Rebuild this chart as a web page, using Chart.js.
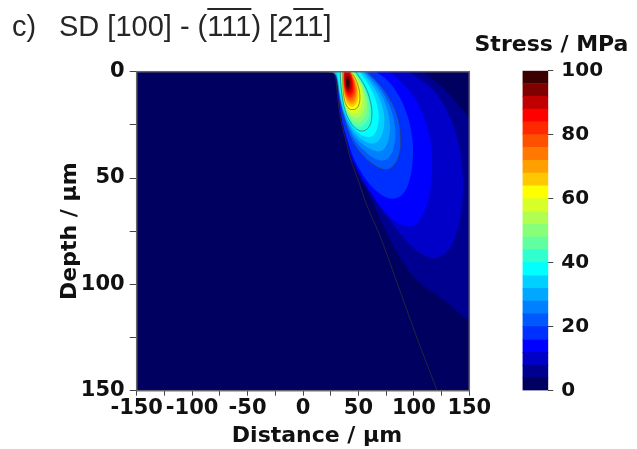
<!DOCTYPE html>
<html>
<head>
<meta charset="utf-8">
<script src="https://cdn.jsdelivr.net/npm/chart.js@4.4.1/dist/chart.umd.min.js"></script>
<style>
  html, body { margin: 0; padding: 0; background: #fff; }
  #wrap { position: relative; width: 637px; height: 449px; overflow: hidden; }
  #main { position: absolute; left: 0; top: 0; }
  #scale { position: absolute; left: 500px; top: 0; }
  .panel-title { position: absolute; top: 12px; font: 29px 'Liberation Sans', Arial, sans-serif; line-height: 29px; color: #262626; white-space: pre; }
  .ov { text-decoration: overline; text-decoration-thickness: 1.5px; }
  #unit { position: absolute; left: 460px; top: 33px; width: 183px; text-align: center; font: bold 22px 'DejaVu Sans', sans-serif; line-height: 22px; color: #111; }
</style>
</head>
<body>
<div id="wrap">
  <canvas id="main" width="637" height="449"></canvas>
  <canvas id="scale" width="137" height="449"></canvas>
  <div class="panel-title" style="left:12px">c)</div>
  <div class="panel-title" style="left:59px">SD [100] - (<span class="ov">111</span>) [2<span class="ov">11</span>]</div>
  <div id="unit">Stress / MPa</div>
</div>
<script>
'use strict';

const FONT = "'DejaVu Sans', sans-serif";

// Stress bands, 4 MPa wide: 0-4 (navy) ... 96-100 (dark red)
const bandStep = 4;
const bandColors = [
    '#000060', '#000090', '#0000c8', '#0000ff', '#0030ff',
    '#0058ff', '#0080ff', '#00a8ff', '#00d0ff', '#00ffff',
    '#30ffd0', '#60ffa0', '#88ff78', '#b0ff50', '#d8ff28',
    '#ffff00', '#ffc800', '#ffa000', '#ff7800', '#ff5000',
    '#ff2800', '#ff0000', '#c00000', '#800000', '#3c0000',
];

const distanceLabels = [-150, -100, -50, 0, 50, 100, 150];
const depthLabels = [0, 50, 100, 150];
const stressLabels = [0, 20, 40, 60, 80, 100];

// Iso-stress outlines as [distance µm, depth µm]; each one bounds the region above its level
const lv04 = [[15,0],[27,0.5],[29.4,2],[30.4,5],[31,8],[32.4,15],[35.4,25],[39.9,34],[43,40.5],[47,45],[51,50],[57.5,55.5],[66,65],[75.6,75.7],[86,86],[96.7,94.5],[111,101.5],[126.5,107.2],[149,116.6],[168,122],[185,105],[185,60],[172,36],[150,22],[128,8.5],[108,0]];
const lv08 = [[17,0],[27.3,0.55],[29.5,2],[30.5,5],[31.1,8],[32.5,15],[35.6,25],[40.2,34],[43.5,40.5],[47.8,45],[52,49.5],[58,54.5],[66,61],[75,67.5],[86,75],[98,82],[110,86.5],[121,87.5],[131,84],[139,75],[143.5,62],[144,48],[140,33],[131,19.5],[118,9],[104,3],[95,0]];
const lv12 = [[19,0],[27.6,0.6],[29.7,2.1],[30.7,5],[31.3,8],[32.7,15],[35.9,25],[40.7,34],[44.4,40.5],[49.3,46],[55,51.5],[62,57.5],[70,63.5],[79,68.5],[89,72],[99,72.5],[107,68.5],[113,60],[116,49],[116,37],[111.5,25],[103,14.5],[92,6.5],[78,0]];
const lv16 = [[21,0],[27.9,0.7],[29.9,2.3],[30.9,5.2],[31.5,8.2],[32.9,15],[36.2,25],[41.3,34],[45.6,40.5],[51.2,46],[58,51.5],[66,56],[75,59],[84,59.5],[91.5,56.5],[96.5,50],[99,41],[98.5,31],[94,20.5],[86,11],[76,4],[66,0]];
const lv20 = [[23,0],[28.2,0.9],[30.1,2.5],[31.2,5.5],[31.9,8.5],[33.5,14],[36.6,21],[40.8,28],[46.2,34],[53,38.8],[63.5,43.7],[74,46],[81,44.5],[86.5,39.5],[88,31],[85.5,21.6],[78,12.5],[68,5.3],[58,0]];
const lv24 = [[25,0],[28.5,1.1],[30.3,2.7],[31.4,5.8],[32.2,9],[34,14.5],[37.2,21],[41.8,27.4],[47.5,32.8],[54.5,36.8],[63.5,40.5],[72,41.8],[78.3,39.8],[82.3,34.5],[83.2,27.5],[80.5,19.5],[74,11.5],[65.5,5],[56.5,0]];
const lv28 = [[27,0],[28.9,1.4],[30.5,3],[31.6,6.2],[32.5,9.6],[34.5,15],[37.8,21],[42.6,26.8],[48.6,31.5],[55.8,34.8],[63.5,36.9],[70.2,37.3],[75,34.8],[78,29.8],[78.2,23.6],[75.4,17],[70,10.3],[62.5,4.6],[55,0]];
const lv32 = [[29,0],[30.2,1.8],[31.1,4],[32.1,7.2],[33.1,10.5],[35.2,15.6],[38.6,21.2],[43.5,26.3],[49.6,30.4],[56.6,32.9],[63.2,33.8],[68.4,32.4],[72,28.5],[73.4,23],[71.8,16.8],[67.3,10.6],[60.6,5],[53.5,0]];
const lv36 = [[31,0],[31.6,2.6],[32.3,5.4],[33.1,8.6],[34.2,11.8],[36.2,16.4],[39.6,21.4],[44.5,25.8],[50.5,29],[56.8,30.6],[62.3,30.3],[66.2,27.6],[68.2,23],[67.5,17.2],[64,11.2],[58.5,5.6],[51.5,0]];
const lv40 = [[33.5,0],[33.9,4],[34.5,8],[35.4,11.8],[37.8,17.8],[41.6,22.6],[46.6,26.2],[53,27.9],[59,26.3],[62,21.6],[60.8,14],[55.5,6.5],[47.5,0]];
const lv44 = [[34,0],[34.3,4.5],[34.9,9],[36.2,13.6],[38.7,18.4],[42.4,22.6],[46.8,25.2],[51.4,25.9],[55.6,24.6],[58.6,22.2],[59.9,19.7],[59.2,14.2],[55.6,8],[50.6,3.2],[46.1,0]];
const lv48 = [[34.4,0],[34.7,5],[35.3,9.4],[36.6,13.8],[38.9,17.8],[42.3,21.2],[46.2,23.3],[49.8,23.9],[53.6,22.8],[56.4,20.6],[57.8,17.6],[57.2,12.8],[54.2,7.4],[49.6,2.8],[45.2,0]];
const lv52 = [[34.9,0],[35.1,5.4],[35.7,9.8],[37,13.9],[39.2,17.4],[42.3,20.1],[45.6,21.5],[48.6,21.8],[51.6,21],[54.2,19],[55.6,15.9],[55.2,11.4],[52.6,6.7],[48.4,2.5],[44.3,0]];
const lv56 = [[35.3,0],[35.5,6],[36.2,10.5],[37.6,14.2],[39.8,17.2],[42.6,19.2],[45.6,19.9],[49.2,19.4],[51.8,17.4],[53.4,14.2],[53.2,9.8],[50.8,5.8],[47.2,2.2],[43.4,0]];
const lv60 = [[35.8,0],[36,7],[36.8,11.5],[38.5,15],[41.4,17.3],[45,17.8],[48.3,17.2],[50.6,15],[51.3,12],[50.2,7.5],[46,2],[42.5,0]];
const lv64 = [[36.1,0],[36.3,6.8],[38.2,13],[41.8,16.1],[46,16.2],[49.3,13.6],[49.6,8],[45.7,2.2],[42.4,0]];
const lv68 = [[36.3,0],[36.5,6.6],[38.3,12.3],[41.9,15],[45.6,15],[48.4,12.5],[48.7,7.6],[45.3,2.2],[42.3,0]];
const lv72 = [[36.5,0],[36.7,6.3],[38.4,11.5],[41.9,13.9],[45.2,13.8],[47.6,11.5],[47.8,7.2],[44.9,2.2],[42.2,0]];
const lv76 = [[36.7,0],[36.9,6],[38.5,10.7],[41.8,12.8],[44.8,12.6],[46.8,10.5],[46.9,6.8],[44.5,2.1],[42.1,0]];
const lv80 = [[36.9,0],[37.1,5.7],[38.6,9.9],[41.6,11.8],[44.3,11.5],[46,9.5],[46,6.3],[44,2],[42,0]];
const lv84 = [[37.1,0],[37.3,5.4],[38.7,9.1],[41.4,10.8],[43.8,10.4],[45.2,8.5],[45.1,5.8],[43.6,1.9],[41.9,0]];
const lv88 = [[37.6,0.8],[37.6,5],[38.9,8.2],[41.1,9.6],[43.1,9.1],[44.2,7.3],[44,4.6],[42.6,1.6],[40,0.6]];
const lv92 = [[38.2,2.4],[38,5],[38.9,7.4],[40.5,8.4],[42.1,7.9],[42.9,6],[42.6,3.6],[41.3,2.3],[39.6,2]];
const lv96 = [[39,3.5],[38.9,5.2],[39.5,6.8],[40.6,7.3],[41.5,6.7],[41.8,5.2],[41.4,3.8],[40.3,3.2]];

// Level i+1 of bandColors for each outline, lowest first so higher ones paint on top
const levelShapes = [lv04, lv08, lv12, lv16, lv20, lv24, lv28, lv32, lv36, lv40, lv44, lv48,
                     lv52, lv56, lv60, lv64, lv68, lv72, lv76, lv80, lv84, lv88, lv92, lv96];
const outlinedShapes = [lv20, lv40, lv60];

// Slip trace running down from the surface
const slipLine = [[15,0],[22,0.2],[27,0.6],[29,2],[30,5],[30.5,7.6],[32,15],[35,25],[39.5,34],[42.5,40.5],[50.5,52],[57,62],[70,78],[84,98],[102,124],[121,150]];

const boldFont = size => ({ family: FONT, size, weight: 'bold' });

// Fills each iso-stress region through the line element path, then frames the plot
const contourFill = {
    id: 'contourFill',
    beforeDatasetsDraw(chart) {
        const { ctx, chartArea: a } = chart;
        ctx.save();
        ctx.beginPath();
        ctx.rect(a.left, a.top, a.right - a.left, a.bottom - a.top);
        ctx.clip();
        ctx.fillStyle = bandColors[0];
        ctx.fillRect(a.left, a.top, a.right - a.left, a.bottom - a.top);
        chart.data.datasets.forEach((ds, i) => {
            if (!ds.band) return;
            const line = chart.getDatasetMeta(i).dataset;
            line.updateControlPoints(a, 'x');
            ctx.beginPath();
            line.path(ctx);
            ctx.closePath();
            ctx.fillStyle = ds.band;
            ctx.fill();
        });
        ctx.restore();
    },
    afterDatasetsDraw(chart) {
        const { ctx, chartArea: a } = chart;
        ctx.save();
        ctx.strokeStyle = '#666';
        ctx.lineWidth = 1.5;
        ctx.strokeRect(a.left, a.top, a.right - a.left, a.bottom - a.top);
        ctx.restore();
    }
};

// Distance caption sits a little right of the axis centre
const distanceCaption = {
    id: 'distanceCaption',
    afterDraw(chart) {
        const { ctx } = chart;
        const x = chart.scales.x;
        ctx.save();
        ctx.font = `bold 22px ${FONT}`;
        ctx.fillStyle = '#111';
        ctx.textAlign = 'center';
        ctx.textBaseline = 'alphabetic';
        ctx.fillText('Distance / µm', (x.left + x.right) / 2 + 14, 441.5);
        ctx.restore();
    }
};

function renderStressMap(canvasId) {
    const ctx = document.getElementById(canvasId);
    const datasets = levelShapes.map((pts, i) => ({
        data: pts, band: bandColors[i + 1],
        borderWidth: 0, pointRadius: 0, tension: 0.4, capBezierPoints: false,
    }));
    outlinedShapes.forEach(pts => datasets.push({
        data: pts, borderColor: 'rgba(60, 60, 70, 0.6)',
        borderWidth: 0.9, pointRadius: 0, tension: 0.4, capBezierPoints: false,
    }));
    datasets.push({
        data: slipLine, borderColor: 'rgba(45, 45, 55, 0.8)',
        borderWidth: 1, pointRadius: 0, tension: 0.4,
    });

    return new Chart(ctx, {
        type: 'line',
        data: { datasets },
        options: {
            responsive: false, animation: false, events: [],
            layout: { padding: { left: 50, top: 71.7, right: 167.7, bottom: 0 } },
            plugins: { legend: { display: false }, tooltip: { enabled: false } },
            scales: {
                x: {
                    type: 'linear', min: -150, max: 150,
                    ticks: {
                        stepSize: 25, autoSkip: false, maxRotation: 0, padding: 0,
                        color: '#111', font: boldFont(21),
                        callback: v => distanceLabels.includes(v) ? String(v) : '',
                    },
                    grid: { drawOnChartArea: false, tickLength: 5, color: '#444' },
                    border: { display: false },
                    title: { display: false },
                    afterFit: s => { s.height = 58.3; },
                },
                y: {
                    type: 'linear', reverse: true, min: 0, max: 150,
                    ticks: {
                        stepSize: 25, autoSkip: false, padding: 5,
                        color: '#111', font: boldFont(21),
                        callback: v => depthLabels.includes(v) ? String(v) : '',
                    },
                    grid: { drawOnChartArea: false, tickLength: 7, color: '#444' },
                    border: { display: false },
                    title: { display: true, text: 'Depth / µm', color: '#111', font: boldFont(22), padding: { top: 7, bottom: 0 } },
                    afterFit: s => { s.width = 86.7; },
                },
            },
        },
        plugins: [contourFill, distanceCaption],
    });
}

function renderColorScale(canvasId) {
    const ctx = document.getElementById(canvasId);
    return new Chart(ctx, {
        type: 'bar',
        data: {
            labels: [''],
            datasets: bandColors.map(c => ({
                data: [bandStep], backgroundColor: c, borderWidth: 0,
                barPercentage: 1, categoryPercentage: 1,
            })),
        },
        options: {
            responsive: false, animation: false, events: [],
            layout: { padding: { left: 22.5, top: 70.7, right: 0, bottom: 58.3 } },
            plugins: { legend: { display: false }, tooltip: { enabled: false } },
            scales: {
                x: { stacked: true, display: false },
                y: {
                    stacked: true, position: 'right', min: 0, max: 100,
                    ticks: {
                        stepSize: 20, padding: 8, color: '#111', font: boldFont(20),
                        callback: v => stressLabels.includes(v) ? String(v) : '',
                    },
                    grid: { drawOnChartArea: false, tickLength: 5, color: '#444' },
                    border: { display: false },
                    afterFit: s => { s.width = 88.7; },
                },
            },
        },
    });
}

renderStressMap('main');
renderColorScale('scale');
</script>
</body>
</html>
